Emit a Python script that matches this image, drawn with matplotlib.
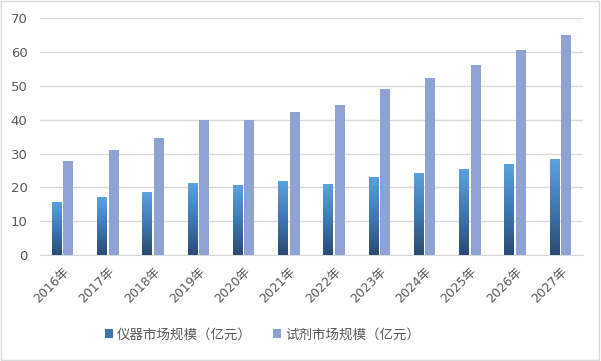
import matplotlib
matplotlib.use("Agg")
import matplotlib.pyplot as plt
import numpy as np
from matplotlib.colors import LinearSegmentedColormap
from matplotlib.patches import Rectangle

years = ["2016年", "2017年", "2018年", "2019年", "2020年", "2021年",
         "2022年", "2023年", "2024年", "2025年", "2026年", "2027年"]
instrument = [15.4, 16.9, 18.6, 21.1, 20.7, 21.7, 21.0, 22.8, 24.0, 25.4, 26.9, 28.4]
reagent = [27.8, 31.1, 34.7, 40.0, 40.0, 42.3, 44.5, 49.2, 52.4, 56.2, 60.7, 65.1]
yticks = [0, 10, 20, 30, 40, 50, 60, 70]
legend_labels = ["仪器市场规模（亿元）", "试剂市场规模（亿元）"]

plt.rcParams['font.family'] = ['DejaVu Sans', 'Noto Sans CJK SC']
text_color = "#595959"

fig = plt.figure(figsize=(6.01, 3.61), dpi=100)
fig.patch.set_facecolor("white")
ax = fig.add_axes([0.0666, 0.2936, 0.9034, 0.6552])

x = np.arange(len(years))
w = 0.22
gap = 0.035
reagent_color = "#8EA3D3"
cmap = LinearSegmentedColormap.from_list("g", ["#2A4A72", "#3F79B4", "#5AA2E0"])
grad = np.linspace(0, 1, 256).reshape(-1, 1)

bars1 = ax.bar(x - (w + gap) / 2, instrument, width=w, color="none", zorder=3)
ax.bar(x + (w + gap) / 2, reagent, width=w, color=reagent_color, zorder=3)

for b in bars1:
    x0, y0 = b.get_x(), b.get_y()
    bw, bh = b.get_width(), b.get_height()
    ax.imshow(grad, extent=[x0, x0 + bw, y0, y0 + bh], origin="lower",
              cmap=cmap, aspect="auto", zorder=3)

ax.set_xlim(-0.5, len(years) - 0.5)
ax.set_ylim(0, 70)
ax.set_yticks(yticks)
ax.set_xticks(x)
ax.set_xticklabels(years, rotation=45, ha="right", rotation_mode="anchor",
                   fontsize=9, color=text_color)
ax.tick_params(axis="y", labelsize=9.5, colors=text_color, length=0, pad=9)
ax.tick_params(axis="x", length=0, pad=7)
ax.grid(axis="y", color="#D9D9D9", linewidth=1, zorder=0)
for s in ["top", "right", "left"]:
    ax.spines[s].set_visible(False)
ax.spines["bottom"].set_color("#D9D9D9")
ax.set_axisbelow(True)

# legend
h1 = Rectangle((0, 0), 1, 1, facecolor="#3D73AE")
h2 = Rectangle((0, 0), 1, 1, facecolor=reagent_color)
fig.legend([h1, h2], legend_labels, loc="center", bbox_to_anchor=(0.437, 0.072),
           ncol=2, frameon=False, fontsize=9.7, handlelength=0.6, handleheight=0.6,
           handletextpad=0.3, columnspacing=1.6, labelcolor=text_color)

# outer border
fig.add_artist(Rectangle((0.002, 0.003), 0.995, 0.994, transform=fig.transFigure,
                         fill=False, edgecolor="#D9D9D9", linewidth=1))

fig.savefig("out.png", dpi=100, facecolor="white")
